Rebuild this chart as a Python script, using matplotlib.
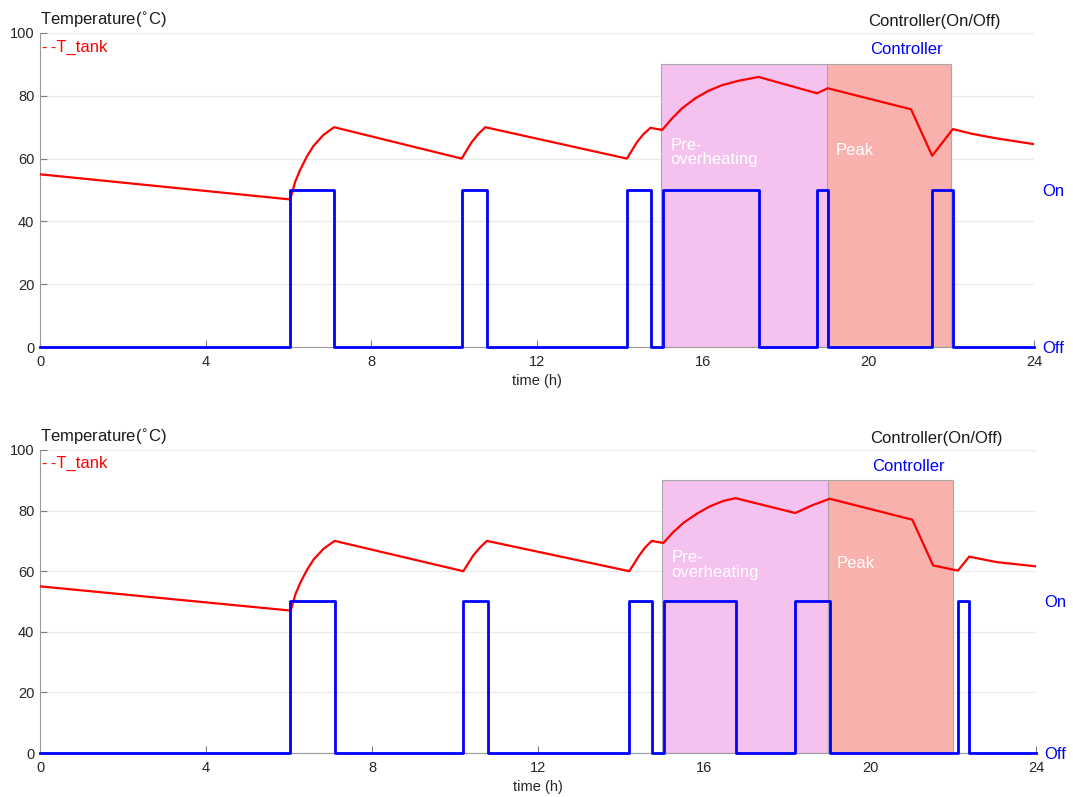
import numpy as np
import matplotlib
matplotlib.use("Agg")
from matplotlib import pyplot as plt

plt.rcParams['font.family'] = ['Liberation Sans', 'DejaVu Sans']

#TANK TEMPERATURE

t_top = [0, 6.04, 6.16, 6.28, 6.44, 6.6, 6.84, 7.1, 10.18, 10.3, 10.42, 10.58, 10.75,
         14.17, 14.29, 14.41, 14.57, 14.74, 15.02,
         15.26, 15.5, 15.82, 16.14, 16.47, 16.87, 17.35, 18.76, 19.02, 21.03, 21.54, 22.04, 22.5, 23.07, 24]
temp_top = [55, 47, 52.6, 56.4, 60.6, 64.0, 67.5, 70, 60, 62.6, 65.2, 67.8, 70,
            60, 62.6, 65.2, 67.8, 69.8, 69.1,
            72.8, 76.0, 79.2, 81.6, 83.4, 84.8, 86.0, 80.8, 82.4, 75.7, 60.9, 69.4, 67.9, 66.5, 64.6]

t_bot = [0, 6.04, 6.16, 6.28, 6.44, 6.6, 6.84, 7.1, 10.2, 10.32, 10.44, 10.6, 10.77,
         14.2, 14.32, 14.44, 14.58, 14.74, 15.02,
         15.26, 15.5, 15.82, 16.14, 16.47, 16.76, 18.2, 18.6, 19.03, 21.02, 21.52, 22.12, 22.39, 23.05, 24]
temp_bot = [55, 47, 52.6, 56.4, 60.6, 64.0, 67.5, 70, 60, 62.6, 65.2, 67.8, 70,
            60, 62.6, 65.2, 67.8, 70, 69.3,
            72.9, 75.9, 78.9, 81.4, 83.2, 84.1, 79.2, 81.7, 83.9, 77.0, 61.9, 60.2, 64.8, 63.0, 61.6]

#CONTROLLER SWITCHING (time, state after switch)

ctrl_t_top = [0, 6.03, 7.1, 10.2, 10.78, 14.17, 14.75, 15.03, 17.35, 18.76, 19.03, 21.54, 22.04, 24]
ctrl_s_top = [0, 1, 0, 1, 0, 1, 0, 1, 0, 1, 0, 1, 0, 0]

ctrl_t_bot = [0, 6.03, 7.1, 10.2, 10.8, 14.2, 14.74, 15.04, 16.76, 18.2, 19.03, 22.12, 22.39, 24]
ctrl_s_bot = [0, 1, 0, 1, 0, 1, 0, 1, 0, 1, 0, 1, 0, 0]

#shaded periods
preheat = (15, 19)
peak = (19, 22)
shade_top = 90

x_ticks = [0, 4, 8, 12, 16, 20, 24]
y_ticks = [0, 20, 40, 60, 80, 100]


def draw_panel(ax, t, temp, ct, cs):
    ax.set_xlim(0, 24)
    ax.set_ylim(0, 100)
    ax.set_axisbelow(True)
    ax.yaxis.grid(True, color='#ebebeb', lw=1)

    ax.fill_between(preheat, 0, shade_top, facecolor='#f5c1ef', edgecolor='#a8a8a8', lw=0.8, zorder=1)
    ax.fill_between(peak, 0, shade_top, facecolor='#f9b1ae', edgecolor='#a8a8a8', lw=0.8, zorder=1)

    ax.plot(t, temp, color='red', lw=1.6, zorder=3)

    ax.set_xticks(x_ticks)
    ax.set_yticks(y_ticks)
    ax.tick_params(direction='in', length=5, color='#808080', labelcolor='#262626', labelsize=10.5, pad=6)
    ax.tick_params(axis='y', pad=4)
    for s in ['top', 'right']:
        ax.spines[s].set_visible(False)
    for s in ['left', 'bottom']:
        ax.spines[s].set_color('#9a9a9a')
        ax.spines[s].set_linewidth(0.8)
    ax.set_xlabel('time (h)', fontsize=10.5, color='#262626', labelpad=3)

    ax.text(0, 101, 'Temperature($^{\\circ}$C)', fontsize=12, color='#1a1a1a', ha='left', va='bottom')
    ax.text(20.0, 101.2, 'Controller(On/Off)', fontsize=12, color='#1a1a1a', ha='left', va='bottom')
    ax.text(0.04, 95.5, '-\u2009-T_tank', fontsize=12, color='red', ha='left', va='center')
    ax.text(20.05, 94.7, 'Controller', fontsize=12, color='blue', ha='left', va='center')
    ax.text(15.22, 62, 'Pre-\noverheating', fontsize=12, color='white', ha='left', va='center',
            linespacing=0.95)
    ax.text(19.2, 62.7, 'Peak', fontsize=12, color='white', ha='left', va='center')

    #controller on its own axis: Off = 0, On = 1 (= 50 on the temperature scale)
    ax2 = ax.twinx()
    ax2.set_ylim(0, 2)
    ax2.step(ct, cs, where='post', color='blue', lw=2, clip_on=False, zorder=4)
    ax2.set_yticks([0, 1])
    ax2.set_yticklabels(['Off', 'On'])
    ax2.tick_params(length=0, pad=6, labelcolor='blue', labelsize=12)
    for s in ax2.spines.values():
        s.set_visible(False)


fig = plt.figure(figsize=(10.73, 7.97), dpi=100)
ax_top = fig.add_axes([0.0373, 0.5646, 0.9264, 0.394])
ax_bot = fig.add_axes([0.0373, 0.0552, 0.9282, 0.3802])

draw_panel(ax_top, t_top, temp_top, ctrl_t_top, ctrl_s_top)
draw_panel(ax_bot, t_bot, temp_bot, ctrl_t_bot, ctrl_s_bot)

fig.savefig('out.png', dpi=100)
